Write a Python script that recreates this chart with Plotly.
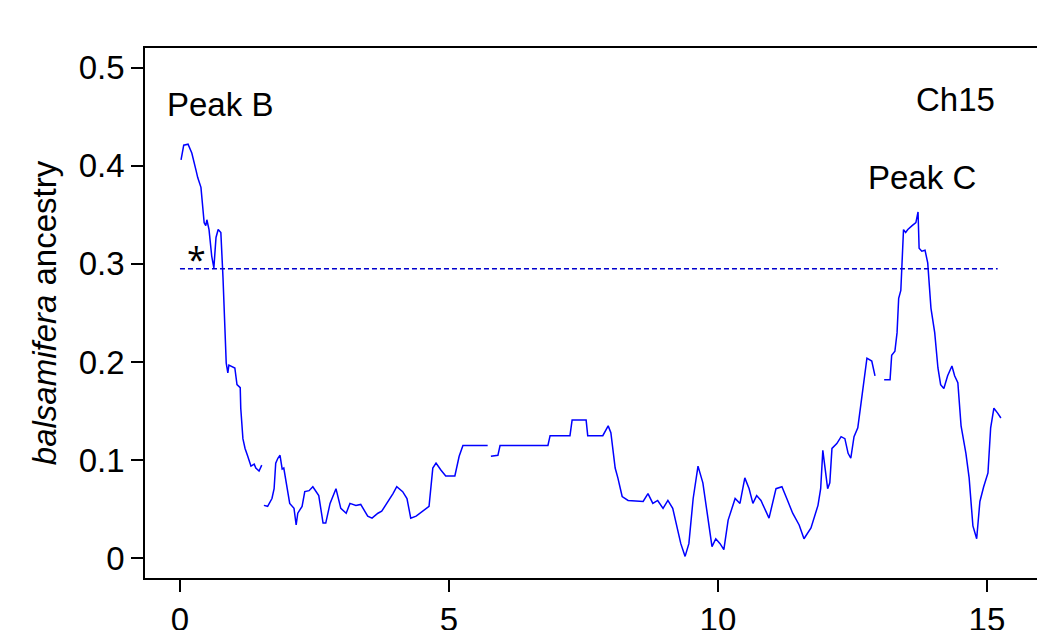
import plotly.graph_objects as go

# position along chromosome 15 (Mb) and balsamifera ancestry; None marks gaps
pos = [0.02, 0.07, 0.15, 0.22, 0.30, 0.33, 0.39, 0.45, 0.48, 0.50, 0.54, 0.59, 0.63, 0.67, 0.71, 0.76,
       0.80, 0.86, 0.89, 0.91, 1.02, 1.06, 1.12, 1.13, 1.17, 1.21, 1.26, 1.32, 1.38, 1.41, 1.47, 1.51, 1.52,
       None,
       1.56, 1.63, 1.71, 1.75, 1.78, 1.82, 1.86, 1.90, 1.93, 1.99, 2.04, 2.12, 2.16, 2.19, 2.27, 2.32, 2.40,
       2.47, 2.58, 2.66, 2.71, 2.79, 2.90, 2.99, 3.09, 3.16, 3.27, 3.36, 3.49, 3.57, 3.68, 3.75, 3.85, 3.96,
       4.03, 4.14, 4.22, 4.29, 4.39, 4.63, 4.70, 4.76, 4.85, 4.94, 5.11, 5.19, 5.26, 5.72,
       None,
       5.78, 5.91, 5.95, 6.84, 6.88, 7.25, 7.29, 7.55, 7.58, 7.86, 7.96, 8.01, 8.09, 8.14, 8.22, 8.33, 8.61,
       8.70, 8.79, 8.88, 8.98, 9.07, 9.16, 9.22, 9.31, 9.39, 9.46, 9.54, 9.63, 9.72, 9.81, 9.89, 9.96, 10.04,
       10.11, 10.19, 10.32, 10.41, 10.50, 10.58, 10.65, 10.72, 10.80, 10.87, 10.95, 11.08, 11.19, 11.28,
       11.39, 11.51, 11.60, 11.73, 11.82, 11.86, 11.91, 11.95, 12.04, 12.08, 12.12, 12.21, 12.29, 12.36,
       12.42, 12.47, 12.53, 12.60, 12.66, 12.71, 12.77, 12.86, 12.92,
       None,
       13.09, 13.20, 13.23, 13.29, 13.33, 13.36, 13.40, 13.44, 13.45, 13.49, 13.53, 13.61, 13.68, 13.72,
       13.74, 13.79, 13.85, 13.90, 13.96, 14.03, 14.09, 14.14, 14.20, 14.27, 14.35, 14.40, 14.46, 14.52,
       14.61, 14.67, 14.74, 14.81, 14.87, 14.94, 15.02, 15.07, 15.13, 15.20, 15.26]
ancestry = [0.406, 0.421, 0.422, 0.413, 0.395, 0.388, 0.378, 0.342, 0.339, 0.345, 0.335, 0.308, 0.296, 0.327,
            0.335, 0.332, 0.286, 0.199, 0.189, 0.197, 0.194, 0.177, 0.174, 0.153, 0.122, 0.112, 0.104, 0.094,
            0.096, 0.092, 0.089, 0.094, 0.095,
            None,
            0.054, 0.053, 0.061, 0.071, 0.097, 0.102, 0.105, 0.091, 0.092, 0.071, 0.056, 0.051, 0.034, 0.046,
            0.053, 0.068, 0.069, 0.073, 0.064, 0.036, 0.036, 0.056, 0.071, 0.051, 0.046, 0.056, 0.054, 0.055,
            0.043, 0.041, 0.046, 0.048, 0.056, 0.066, 0.073, 0.068, 0.061, 0.041, 0.043, 0.053, 0.092, 0.097,
            0.090, 0.084, 0.084, 0.104, 0.115, 0.115,
            None,
            0.104, 0.105, 0.115, 0.115, 0.125, 0.125, 0.141, 0.141, 0.125, 0.125, 0.135, 0.128, 0.092, 0.082,
            0.063, 0.059, 0.058, 0.066, 0.056, 0.059, 0.051, 0.059, 0.051, 0.036, 0.015, 0.002, 0.015, 0.061,
            0.094, 0.077, 0.041, 0.012, 0.020, 0.015, 0.009, 0.039, 0.061, 0.056, 0.082, 0.071, 0.056, 0.064,
            0.059, 0.051, 0.041, 0.071, 0.073, 0.061, 0.046, 0.034, 0.020, 0.031, 0.046, 0.054, 0.071, 0.110,
            0.071, 0.077, 0.112, 0.117, 0.124, 0.122, 0.107, 0.102, 0.124, 0.133, 0.158, 0.179, 0.204, 0.201,
            0.186,
            None,
            0.182, 0.182, 0.207, 0.211, 0.230, 0.265, 0.273, 0.314, 0.335, 0.332, 0.335, 0.339, 0.342, 0.353,
            0.316, 0.313, 0.314, 0.301, 0.255, 0.230, 0.194, 0.177, 0.173, 0.186, 0.196, 0.186, 0.179, 0.135,
            0.107, 0.082, 0.033, 0.020, 0.058, 0.073, 0.087, 0.133, 0.153, 0.148, 0.143]

threshold = 0.295
threshold_x = [0.0, 15.2]

fig = go.Figure()
fig.add_trace(go.Scatter(x=pos, y=ancestry, mode='lines', connectgaps=False,
                         line=dict(color='#0000ff', width=1.5), showlegend=False))
fig.add_trace(go.Scatter(x=threshold_x, y=[threshold, threshold], mode='lines',
                         line=dict(color='#0000cc', width=1.5, dash='5px,3px'), showlegend=False))

font = dict(family='Liberation Sans, Arial, sans-serif', size=33, color='black')
fig.add_annotation(x=0.3, y=0.305, text='*', showarrow=False, font=dict(size=34, color='black'))
fig.add_annotation(x=0.74, y=0.462, text='Peak B', showarrow=False, font=font)
fig.add_annotation(x=14.42, y=0.468, text='Ch15', showarrow=False, font=font)
fig.add_annotation(x=13.8, y=0.388, text='Peak C', showarrow=False, font=font)

axis = dict(showgrid=False, zeroline=False, showline=True, linecolor='black', linewidth=1.5,
            mirror=True, ticks='outside', ticklen=12, tickwidth=1.5, tickcolor='black',
            tickfont=font, automargin=False)
fig.update_layout(
    width=1045, height=630,
    plot_bgcolor='white', paper_bgcolor='white',
    margin=dict(l=137, r=15, t=40, b=60),
    xaxis=dict(range=[-0.65, 15.95], tickvals=[0, 5, 10, 15], **axis),
    yaxis=dict(range=[-0.02, 0.52], tickvals=[0, 0.1, 0.2, 0.3, 0.4, 0.5],
               ticktext=['0', '0.1', '0.2', '0.3', '0.4', '0.5'],
               title=dict(text='<i>balsamifera</i> ancestry', font=font, standoff=12), **axis),
)
fig.write_html("out.html")
